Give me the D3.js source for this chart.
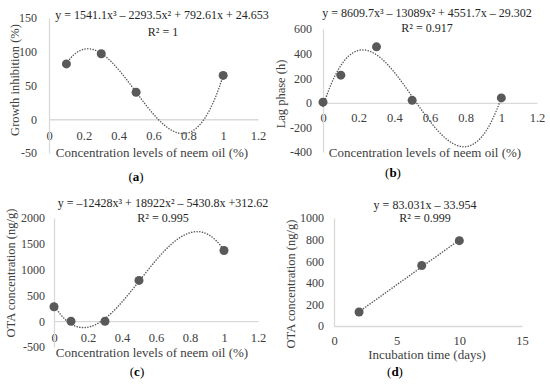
<!DOCTYPE html>
<html>
<head>
<meta charset="utf-8">
<script src="https://cdn.jsdelivr.net/npm/d3@7"></script>
<style>
body { margin: 0; background: #fff; }
svg, svg text { font-family: "Liberation Serif", "Times New Roman", serif; }
svg { display: block; }
</style>
</head>
<body>
<svg id="svg" width="550" height="385"></svg>
<script>
// panel (a)
var concA = [0.1, 0.3, 0.5, 1];
var growthInhibition = [82, 97, 40, 65];
var coefA = [24.653, 792.61, -2293.5, 1541.1];
var yTicksA = [-50, 0, 50, 100, 150];

// panel (b)
var concB = [0, 0.1, 0.3, 0.5, 1];
var lagPhase = [5, 225, 455, 20, 40];
var coefB = [-29.302, 4551.7, -13089, 8609.7];
var yTicksB = [-400, -200, 0, 200, 400, 600];

// panel (c)
var concC = [0, 0.1, 0.3, 0.5, 1];
var otaConc = [280, 0, 0, 790, 1370];
var coefC = [312.62, -5430.8, 18922, -12428];
var yTicksC = [-500, 0, 500, 1000, 1500, 2000];

// panel (d)
var incubationDays = [2, 7, 10];
var otaTime = [130, 560, 790];
var coefD = [-33.954, 83.031];
var yTicksD = [0, 200, 400, 600, 800, 1000];

var concTicks = [0, 0.2, 0.4, 0.6, 0.8, 1, 1.2];
var dayTicks = [0, 5, 10, 15];

var svg = d3.select("#svg");

function poly(c, x) {
    var s = 0;
    for (var i = c.length - 1; i >= 0; i--) s = s * x + c[i];
    return s;
}

function fmt(d) { return String(+d.toFixed(1)); }

function panel(p) {
    var g = svg.append("g");
    var x = d3.scaleLinear().domain(p.xdom).range(p.xr);
    var y = d3.scaleLinear().domain(p.ydom).range(p.yr);

    // x axis along y = 0
    var xa = g.append("g").attr("transform", "translate(0," + y(0) + ")")
        .call(d3.axisBottom(x).tickValues(p.xticks).tickSize(0).tickPadding(p.xpad).tickFormat(fmt));
    xa.attr("font-family", null).attr("font-size", "12.5px");
    xa.select(".domain").attr("stroke", "#d9d9d9").attr("stroke-width", 1.3);
    xa.selectAll("text").attr("fill", "#404040");

    var ya = g.append("g").attr("transform", "translate(" + x(0) + ",0)")
        .call(d3.axisLeft(y).tickValues(p.yticks).tickSize(0).tickPadding(p.ypad).tickFormat(fmt));
    ya.attr("font-family", null).attr("font-size", "12px");
    ya.select(".domain").attr("stroke", "#d9d9d9").attr("stroke-width", 1.3);
    ya.selectAll("text").attr("fill", "#404040");

    // trendline
    var ext = d3.extent(p.xs);
    var pts = d3.range(0, 101).map(function(i) {
        var xv = ext[0] + (ext[1] - ext[0]) * i / 100;
        return [xv, poly(p.coef, xv)];
    });
    g.append("path")
        .attr("d", d3.line().x(function(d) { return x(d[0]); }).y(function(d) { return y(d[1]); })(pts))
        .attr("fill", "none")
        .attr("stroke", "#595959")
        .attr("stroke-width", 1.5)
        .attr("stroke-linecap", "round")
        .attr("stroke-dasharray", "0.1,2.6");

    g.selectAll("circle").data(p.xs).enter().append("circle")
        .attr("cx", function(d) { return x(d); })
        .attr("cy", function(d, i) { return y(p.ys[i]); })
        .attr("r", 4.5)
        .attr("fill", "#595959");

    g.append("text").attr("x", p.eq[0]).attr("y", p.eq[1]).attr("text-anchor", "middle")
        .attr("font-size", "12px").attr("fill", "#262626").text(p.eqText);
    g.append("text").attr("x", p.r2[0]).attr("y", p.r2[1]).attr("text-anchor", "middle")
        .attr("font-size", "12px").attr("fill", "#262626").text(p.r2Text);

    g.append("text").attr("x", p.xt[0]).attr("y", p.xt[1]).attr("text-anchor", "middle")
        .attr("font-size", "13px").attr("fill", "#404040").text(p.xTitle);
    g.append("text").attr("transform", "translate(" + p.yt[0] + "," + p.yt[1] + ") rotate(-90)")
        .attr("text-anchor", "middle")
        .attr("font-size", "12.5px").attr("fill", "#404040").text(p.yTitle);

    var lab = g.append("text").attr("x", p.lab[0]).attr("y", p.lab[1]).attr("text-anchor", "middle")
        .attr("font-size", "13px").attr("fill", "#000");
    lab.append("tspan").text("(");
    lab.append("tspan").attr("font-weight", "bold").text(p.letter);
    lab.append("tspan").text(")");
}

panel({
    xs: concA, ys: growthInhibition, coef: coefA,
    xdom: [0, 1.2], xr: [49, 258], ydom: [-50, 150], yr: [153, 18],
    xticks: concTicks, yticks: yTicksA, xpad: 12, ypad: 12,
    eqText: "y = 1541.1x³ – 2293.5x² + 792.61x + 24.653", eq: [162, 19],
    r2Text: "R² = 1", r2: [163, 36],
    xTitle: "Concentration levels of neem oil (%)", xt: [152, 157],
    yTitle: "Growth inhibition (%)", yt: [19, 80],
    letter: "a", lab: [136, 181]
});

panel({
    xs: concB, ys: lagPhase, coef: coefB,
    xdom: [0, 1.2], xr: [323, 537], ydom: [-400, 600], yr: [152, 29],
    xticks: concTicks, yticks: yTicksB, xpad: 10, ypad: 11,
    eqText: "y = 8609.7x³ – 13089x² + 4551.7x – 29.302", eq: [427, 17],
    r2Text: "R² = 0.917", r2: [427, 32],
    xTitle: "Concentration levels of neem oil (%)", xt: [425, 157],
    yTitle: "Lag phase (h)", yt: [285, 94],
    letter: "b", lab: [393, 177]
});

panel({
    xs: concC, ys: otaConc, coef: coefC,
    xdom: [0, 1.2], xr: [54, 258], ydom: [-500, 2000], yr: [347, 218],
    xticks: concTicks, yticks: yTicksC, xpad: 12, ypad: 9,
    eqText: "y = –12428x³ + 18922x² – 5430.8x +312.62", eq: [163, 207],
    r2Text: "R² = 0.995", r2: [163, 222],
    xTitle: "Concentration levels of neem oil (%)", xt: [152, 357],
    yTitle: "OTA concentration (ng/g)", yt: [15, 273],
    letter: "c", lab: [137, 376]
});

panel({
    xs: incubationDays, ys: otaTime, coef: coefD,
    xdom: [0, 15], xr: [334, 522], ydom: [0, 1000], yr: [326, 218],
    xticks: dayTicks, yticks: yTicksD, xpad: 10, ypad: 10,
    eqText: "y = 83.031x – 33.954", eq: [425, 209],
    r2Text: "R² = 0.999", r2: [425, 222],
    xTitle: "Incubation time (days)", xt: [427, 359],
    yTitle: "OTA concentration (ng/g)", yt: [295, 284],
    letter: "d", lab: [395, 376]
});
</script>
</body>
</html>
